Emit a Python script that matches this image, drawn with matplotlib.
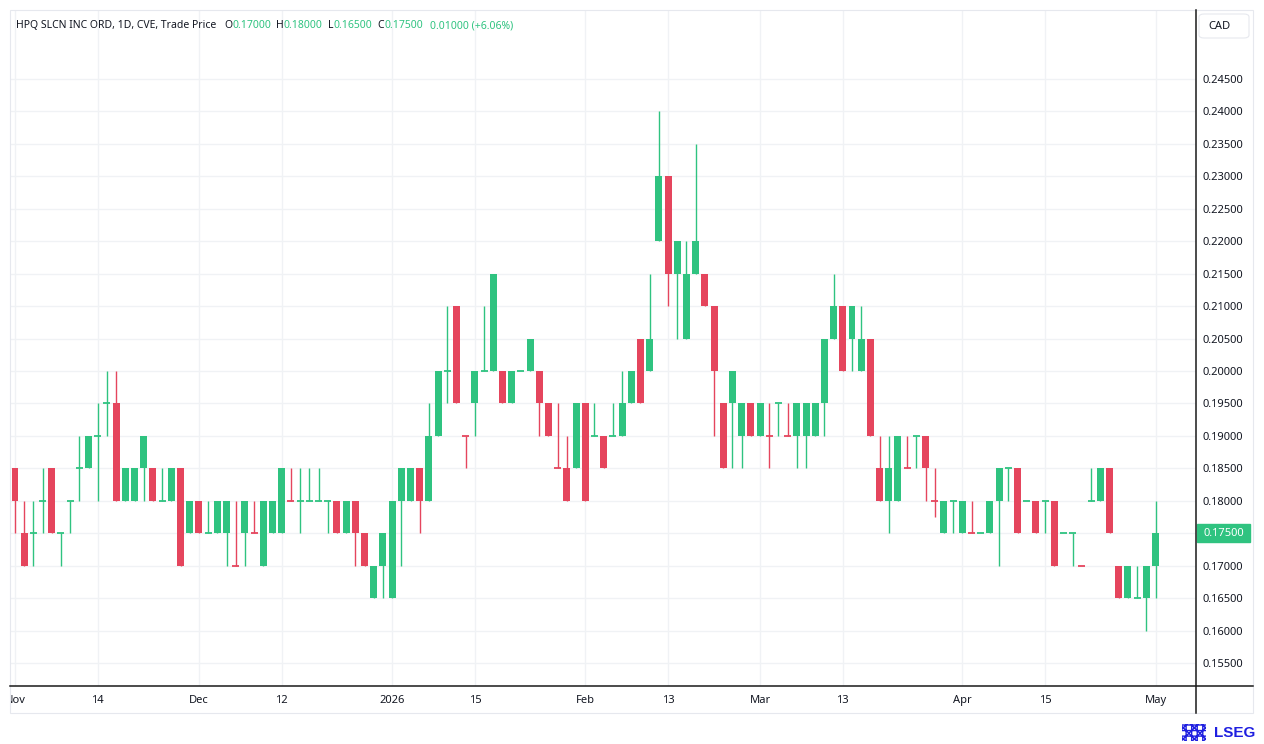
import matplotlib
matplotlib.use("Agg")
import matplotlib.pyplot as plt
import numpy as np
import pandas as pd
from matplotlib.lines import Line2D
from matplotlib.patches import Rectangle, FancyBboxPatch
from matplotlib.transforms import Bbox, TransformedBbox, blended_transform_factory

plt.rcParams['font.family'] = ['Noto Sans', 'DejaVu Sans']

# trading days (TSX Venture), Nov 3 2025 -> May 1 2026
holidays = ["2025-12-25", "2025-12-26", "2026-01-01", "2026-02-16", "2026-04-03"]
dates = pd.bdate_range("2025-11-03", "2026-05-01", freq="C", holidays=holidays)

opens = [0.185, 0.175, 0.175, 0.180, 0.185, 0.175, 0.180, 0.185, 0.185, 0.190,
         0.195, 0.195, 0.180, 0.180, 0.185, 0.185, 0.180, 0.180, 0.185, 0.175,
         0.180, 0.175, 0.175, 0.175, 0.170, 0.175, 0.175, 0.170, 0.175, 0.175,
         0.180, 0.180, 0.180, 0.180, 0.180, 0.180, 0.175, 0.180, 0.175, 0.165,
         0.170, 0.165, 0.180, 0.180, 0.185, 0.180, 0.190, 0.200, 0.210, 0.190,
         0.195, 0.200, 0.200, 0.200, 0.195, 0.200, 0.200, 0.200, 0.195, 0.185,
         0.185, 0.185, 0.195, 0.190, 0.190, 0.190, 0.190, 0.195, 0.205, 0.200,
         0.220, 0.230, 0.215, 0.205, 0.215, 0.215, 0.210, 0.195, 0.195, 0.190,
         0.195, 0.190, 0.190, 0.195, 0.190, 0.190, 0.190, 0.190, 0.195, 0.205,
         0.210, 0.205, 0.200, 0.205, 0.185, 0.180, 0.180, 0.185, 0.190, 0.190,
         0.180, 0.175, 0.180, 0.175, 0.175, 0.175, 0.175, 0.180, 0.185, 0.185,
         0.180, 0.180, 0.180, 0.180, 0.175, 0.175, 0.170, 0.180, 0.180, 0.185,
         0.170, 0.165, 0.165, 0.165, 0.170]
highs = [0.185, 0.180, 0.180, 0.185, 0.185, 0.175, 0.180, 0.190, 0.190, 0.195,
         0.200, 0.200, 0.185, 0.185, 0.190, 0.185, 0.185, 0.185, 0.185, 0.180,
         0.180, 0.180, 0.180, 0.180, 0.180, 0.180, 0.180, 0.180, 0.180, 0.185,
         0.185, 0.185, 0.185, 0.185, 0.180, 0.180, 0.180, 0.180, 0.175, 0.170,
         0.175, 0.180, 0.185, 0.185, 0.185, 0.195, 0.200, 0.210, 0.210, 0.190,
         0.200, 0.210, 0.215, 0.200, 0.200, 0.200, 0.205, 0.200, 0.195, 0.195,
         0.190, 0.195, 0.195, 0.195, 0.190, 0.195, 0.200, 0.200, 0.205, 0.215,
         0.240, 0.230, 0.220, 0.220, 0.235, 0.215, 0.210, 0.195, 0.200, 0.195,
         0.195, 0.195, 0.195, 0.195, 0.195, 0.195, 0.195, 0.195, 0.205, 0.215,
         0.210, 0.210, 0.210, 0.205, 0.190, 0.190, 0.190, 0.190, 0.190, 0.190,
         0.185, 0.180, 0.180, 0.180, 0.180, 0.175, 0.180, 0.185, 0.185, 0.185,
         0.180, 0.180, 0.180, 0.180, 0.175, 0.175, 0.170, 0.185, 0.185, 0.185,
         0.170, 0.170, 0.170, 0.170, 0.180]
lows = [0.175, 0.170, 0.170, 0.175, 0.175, 0.170, 0.175, 0.180, 0.185, 0.180,
        0.190, 0.180, 0.180, 0.180, 0.180, 0.180, 0.180, 0.180, 0.170, 0.175,
        0.175, 0.175, 0.175, 0.170, 0.170, 0.170, 0.175, 0.170, 0.175, 0.175,
        0.180, 0.175, 0.180, 0.180, 0.175, 0.175, 0.175, 0.170, 0.170, 0.165,
        0.165, 0.165, 0.170, 0.180, 0.175, 0.180, 0.190, 0.195, 0.195, 0.185,
        0.190, 0.200, 0.200, 0.195, 0.195, 0.200, 0.200, 0.190, 0.190, 0.185,
        0.180, 0.185, 0.180, 0.190, 0.185, 0.190, 0.190, 0.195, 0.195, 0.200,
        0.220, 0.210, 0.205, 0.205, 0.215, 0.210, 0.190, 0.185, 0.185, 0.185,
        0.190, 0.190, 0.185, 0.190, 0.190, 0.185, 0.185, 0.190, 0.190, 0.205,
        0.200, 0.200, 0.200, 0.190, 0.180, 0.175, 0.180, 0.185, 0.185, 0.180,
        0.1775, 0.175, 0.175, 0.175, 0.175, 0.175, 0.175, 0.170, 0.180, 0.175,
        0.180, 0.175, 0.175, 0.170, 0.175, 0.170, 0.170, 0.180, 0.180, 0.175,
        0.165, 0.165, 0.165, 0.160, 0.165]
closes = [0.180, 0.170, 0.175, 0.180, 0.175, 0.175, 0.180, 0.185, 0.190, 0.190,
          0.195, 0.180, 0.185, 0.185, 0.190, 0.180, 0.180, 0.185, 0.170, 0.180,
          0.175, 0.175, 0.180, 0.180, 0.170, 0.180, 0.175, 0.180, 0.180, 0.185,
          0.180, 0.180, 0.180, 0.180, 0.180, 0.175, 0.180, 0.175, 0.170, 0.170,
          0.175, 0.180, 0.185, 0.185, 0.180, 0.190, 0.200, 0.200, 0.195, 0.190,
          0.200, 0.200, 0.215, 0.195, 0.200, 0.200, 0.205, 0.195, 0.190, 0.185,
          0.180, 0.195, 0.180, 0.190, 0.185, 0.190, 0.195, 0.200, 0.195, 0.205,
          0.230, 0.215, 0.220, 0.215, 0.220, 0.210, 0.200, 0.185, 0.200, 0.195,
          0.190, 0.195, 0.190, 0.195, 0.190, 0.195, 0.195, 0.195, 0.205, 0.210,
          0.200, 0.210, 0.205, 0.190, 0.180, 0.185, 0.190, 0.185, 0.190, 0.185,
          0.180, 0.180, 0.180, 0.180, 0.175, 0.175, 0.180, 0.185, 0.185, 0.175,
          0.180, 0.175, 0.180, 0.170, 0.175, 0.175, 0.170, 0.180, 0.185, 0.175,
          0.165, 0.170, 0.165, 0.170, 0.175]
green_doji_override = [122]

tick_dates = ["2025-11-03", "2025-11-14", "2025-12-01", "2025-12-12", "2026-01-02", "2026-01-15",
              "2026-02-02", "2026-02-13", "2026-03-02", "2026-03-13", "2026-04-01", "2026-04-15",
              "2026-05-01"]
tick_labels = ["Nov", "14", "Dec", "12", "2026", "15", "Feb", "13", "Mar", "13", "Apr", "15", "May"]
price_ticks = np.round(np.arange(0.155, 0.2451, 0.005), 3)
last_price = closes[-1]

header = [("HPQ SLCN INC ORD, 1D, CVE, Trade Price", "k"), ("O", "k"), ("0.17000", "g"),
          ("H", "k"), ("0.18000", "g"), ("L", "k"), ("0.16500", "g"),
          ("C", "k"), ("0.17500", "g"), ("0.01000 (+6.06%)", "g")]

GREEN = "#2fc380"
RED = "#e5455d"
TXT = "#131722"
GRID = "#f0f2f5"

W, H = 1264, 744
def fx(px):
    return px / W
def fy(py):
    return 1 - py / H

fig = plt.figure(figsize=(12.64, 7.44), dpi=100)
ax = fig.add_axes([fx(10), fy(686), fx(1196) - fx(10), fy(10) - fy(686)])

o = np.array(opens)
h = np.array(highs)
l = np.array(lows)
c = np.array(closes)
x = np.arange(len(o))

# candle colours: up/down by open-close, dojis by previous close
cols = []
for i in range(len(o)):
    if c[i] > o[i]:
        cols.append(GREEN)
    elif c[i] < o[i]:
        cols.append(RED)
    elif i in green_doji_override or i == 0 or c[i] >= c[i - 1]:
        cols.append(GREEN)
    else:
        cols.append(RED)
cols = np.array(cols)

ax.vlines(x, l, h, colors=cols, lw=1.0, zorder=3)
body = c != o
ax.bar(x[body], np.abs(c - o)[body], bottom=np.minimum(o, c)[body], width=0.76,
       color=cols[body], lw=0, zorder=4)
doji = ~body
ax.hlines(c[doji], x[doji] - 0.38, x[doji] + 0.38, colors=cols[doji], lw=1.3, zorder=4)

ax.set_xlim(-0.544, 128.4)
ax.set_ylim(0.15146, 0.25563)

date_pos = {d.strftime("%Y-%m-%d"): i for i, d in enumerate(dates)}
ax.set_xticks([date_pos[d] for d in tick_dates])
ax.set_xticklabels(tick_labels)
ax.set_yticks(price_ticks)
ax.set_yticklabels(["" if abs(v - last_price) < 1e-9 else f"{v:.5f}" for v in price_ticks])
ax.yaxis.tick_right()
ax.tick_params(axis='y', length=0, pad=5, labelsize=8, labelcolor=TXT)
ax.tick_params(axis='x', length=0, pad=6.5, labelsize=8, labelcolor=TXT)
ax.grid(True, color=GRID, lw=1.0, zorder=0)
ax.set_axisbelow(True)
for s in ax.spines.values():
    s.set_visible(False)

xl = ax.get_xticklabels()
xl[4].set_fontweight('bold')
# first label is cut by the left edge of the chart
xl[0].set_clip_box(TransformedBbox(Bbox([[fx(10), 0], [1, 1]]), fig.transFigure))
xl[0].set_clip_on(True)

# frame lines of the chart panel
fig.add_artist(Rectangle((fx(10), fy(713)), fx(1253) - fx(10), fy(10) - fy(713),
                         transform=fig.transFigure, fill=False, ec="#e6e8ee", lw=0.8))
fig.add_artist(Line2D([fx(10), fx(1253)], [fy(686), fy(686)], color="#1a1a1a", lw=1.1))
fig.add_artist(Line2D([fx(1196), fx(1196)], [fy(10), fy(713)], color="#1a1a1a", lw=1.1))

# last price marker on the price axis
tr = blended_transform_factory(fig.transFigure, ax.transData)
box_h = 0.0028
ax.add_patch(Rectangle((fx(1197), last_price - box_h / 2), fx(1250) - fx(1197), box_h,
                       transform=tr, color=GREEN, clip_on=False, zorder=5))
ax.text(fx(1203), last_price, f"{last_price:.5f}", transform=tr, color="white",
        fontsize=8, va='center', ha='left', zorder=6, clip_on=False)

# currency box
fig.add_artist(FancyBboxPatch((fx(1199), fy(38)), fx(1249) - fx(1199), fy(14) - fy(38),
                              boxstyle="round,pad=0,rounding_size=0.004",
                              transform=fig.transFigure, fc="white", ec="#e6e8ee", lw=0.8))
fig.text(fx(1208), fy(26.5), "CAD", fontsize=8, color=TXT, va='center', ha='left')

# header line, coloured pieces chained one after the other
gaps = [0, 0, 3.8, 0, 3.8, 0, 3.8, 0, 5.0]
prev = fig.text(fx(16), fy(25.5), header[0][0], fontsize=7.5, color=TXT, va='center', ha='left')
prev = ax.annotate(header[1][0], xy=(1, 0), xycoords=prev, xytext=(5.5, 0),
                   textcoords='offset points', va='bottom', ha='left', fontsize=7.5,
                   color=TXT, annotation_clip=False)
for (txt, kind), gap in zip(header[2:], gaps[1:]):
    prev = ax.annotate(txt, xy=(1, 0), xycoords=prev, xytext=(gap, 0), textcoords='offset points',
                       va='bottom', ha='left', fontsize=7.5,
                       color=GREEN if kind == "g" else TXT, annotation_clip=False)

# LSEG mark
fig.add_artist(Rectangle((fx(1182), fy(741)), fx(1206) - fx(1182), fy(724) - fy(741),
                         transform=fig.transFigure, fill=False, hatch='xxx+++', ec="#1f1fe0", lw=0))
fig.text(fx(1214), fy(733), "LSEG", fontsize=11, fontweight='bold', color="#1f1fe0",
         family=['Liberation Sans', 'DejaVu Sans'], va='center', ha='left')

fig.savefig("out.png", dpi=100, facecolor="white")
